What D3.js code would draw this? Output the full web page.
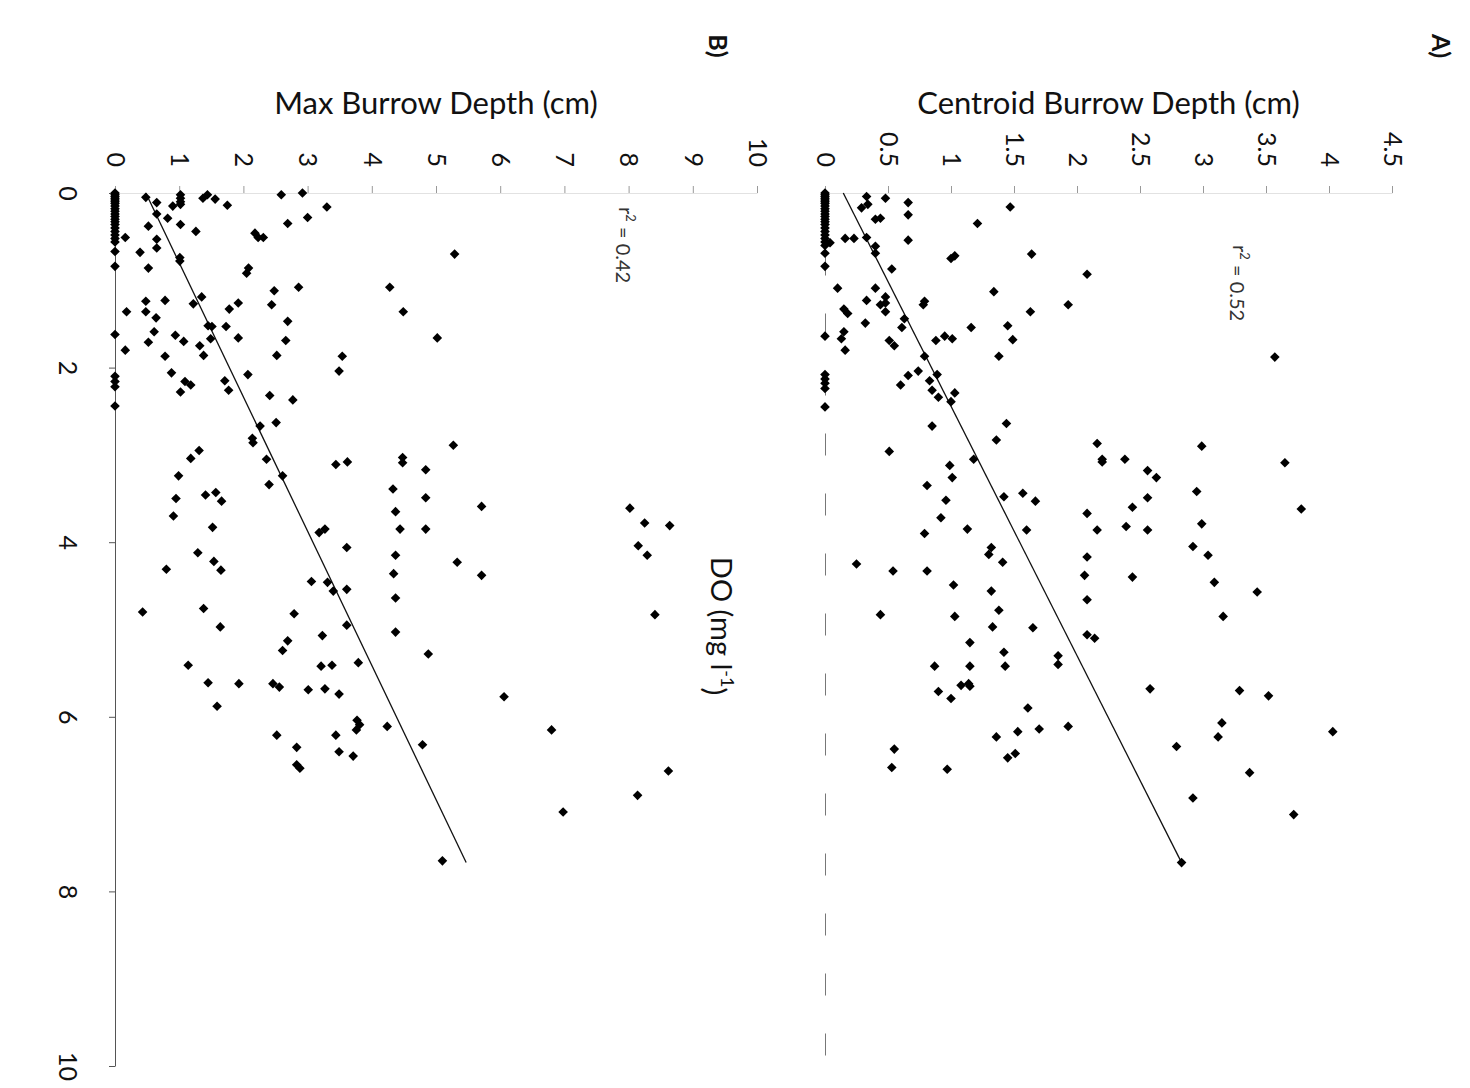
<!DOCTYPE html>
<html>
<head>
<meta charset="utf-8">
<script src="https://cdn.jsdelivr.net/npm/d3@7"></script>
<style>
  html, body { margin: 0; padding: 0; background: #fff; }
  svg { display: block; }
  text { font-family: Lato, "Open Sans", sans-serif; fill: #111; }
</style>
</head>
<body>
<svg id="chart" width="1470" height="1088"></svg>
<script>
// ---------- DATA ----------
const doTicks = [0, 2, 4, 6, 8, 10];
const centroidTicks = [0, 0.5, 1, 1.5, 2, 2.5, 3, 3.5, 4, 4.5];
const maxTicks = [0, 1, 2, 3, 4, 5, 6, 7, 8, 9, 10];

const panelLabels = ["A)", "B)"];
const axisTitles = ["Centroid Burrow Depth (cm)", "Max Burrow Depth (cm)"];
const r2Labels = ["0.52", "0.42"];

// [DO (mg/l), centroid burrow depth (cm)]
const centroidPoints = [
  [0,0],[0.02,0],[0.04,0],[0.06,0],[0.08,0],[0.1,0],[0.12,0],[0.15,0],[0.18,0],[0.21,0],[0.24,0],[0.27,0],[0.3,0],
  [0.33,0],[0.36,0],[0.4,0],[0.44,0],[0.48,0],[0.52,0],[0.56,0],[0.6,0],[0.69,0],[0.84,0],[1.64,0],[2.08,0],[2.13,0],
  [2.18,0],[2.24,0],[2.45,0],[0.57,0.04],
  [0.04,0.33],[0.06,0.48],[0.11,0.66],[0.17,0.29],[0.13,0.34],[0.25,0.66],[0.30,0.40],[0.29,0.44],[0.16,1.47],[0.35,1.21],
  [0.52,0.16],[0.52,0.23],[0.51,0.33],[0.54,0.66],[0.61,0.40],[0.69,0.40],[0.75,1.0],[0.72,1.03],[0.70,1.64],[0.87,0.53],
  [0.93,2.08],[1.09,0.10],[1.09,0.40],[1.13,1.34],[1.23,0.33],[1.19,0.48],[1.28,0.44],[1.26,0.48],[1.36,0.48],[1.28,0.78],
  [1.24,0.79],[1.33,0.15],[1.38,0.18],[1.28,1.93],[1.36,1.63],[1.49,0.32],[1.44,0.63],[1.54,0.61],[1.54,1.16],[1.52,1.45],
  [1.68,1.49],[1.59,0.15],[1.67,0.13],[1.80,0.16],[1.69,0.51],[1.75,0.55],[1.69,0.88],[1.64,0.95],[1.67,1.01],[1.87,0.79],
  [1.87,1.38],[1.88,3.57],[2.09,0.66],[2.20,0.60],[2.04,0.74],[2.08,0.89],[2.15,0.83],[2.26,0.85],[2.34,0.90],[2.29,1.03],
  [2.39,1.0],[2.67,0.85],[2.64,1.44],
  [2.83,1.36],[2.96,0.51],[3.05,1.18],[3.12,0.99],[3.26,1.01],[3.35,0.81],[3.52,0.96],[3.72,0.92],[3.90,0.79],[3.85,1.13],
  [3.48,1.42],[3.44,1.57],[3.53,1.67],[3.86,1.60],[4.06,1.32],[4.14,1.30],[4.23,1.41],[4.25,0.25],[4.33,0.54],[4.33,0.81],
  [4.49,1.02],[4.56,1.32],[4.83,0.44],[4.85,1.03],[4.78,1.38],[4.97,1.33],[4.98,1.65],[5.15,1.15],[5.26,1.42],[5.42,0.87],
  [5.42,1.15],[5.42,1.43],[5.30,1.85],[5.40,1.85],
  [2.87,2.16],[3.05,2.20],[3.08,2.20],[3.05,2.38],[3.18,2.56],[3.26,2.63],[2.90,2.99],[3.09,3.65],[3.42,2.95],[3.49,2.56],
  [3.60,2.44],[3.67,2.08],[3.86,2.16],[3.82,2.39],[3.86,2.56],[3.79,2.99],[3.62,3.78],[4.05,2.92],[4.15,3.04],[4.17,2.08],
  [4.38,2.06],[4.40,2.44],[4.46,3.09],[4.57,3.43],[4.66,2.08],[4.85,3.16],[5.06,2.08],[5.10,2.14],
  [5.71,0.90],[5.79,1.0],[5.64,1.08],[5.62,1.14],[5.65,1.15],[5.90,1.61],[6.23,1.36],[6.17,1.53],[6.14,1.70],[6.11,1.93],
  [6.47,1.45],[6.42,1.51],[6.37,0.55],[6.58,0.53],[6.60,0.97],
  [5.68,2.58],[5.70,3.29],[5.76,3.52],[6.07,3.15],[6.23,3.12],[6.34,2.79],[6.17,4.03],[6.64,3.37],[6.93,2.92],[7.12,3.72],
  [7.67,2.83]
];

// [DO (mg/l), max burrow depth (cm)]
const maxPoints = [
  [0,0],[0.02,0],[0.04,0],[0.06,0],[0.08,0],[0.1,0],[0.12,0],[0.15,0],[0.18,0],[0.21,0],[0.24,0],[0.27,0],[0.3,0],
  [0.33,0],[0.36,0],[0.4,0],[0.44,0],[0.48,0],[0.52,0],[0.56,0],[0.67,0],[0.84,0],[1.62,0],[2.10,0],[2.16,0],[2.22,0],[2.44,0],
  [0.51,0.16],[0.05,0.48],[0.11,0.65],[0.24,0.65],[0.15,0.90],[0.02,1.02],[0.06,1.02],[0.10,1.02],[0.13,1.02],[0.29,0.82],
  [0.36,1.02],[0.38,0.52],[0.53,0.65],[0.63,0.65],[0.68,0.39],[0.86,0.52],[0.74,1.01],[0.78,1.01],[1.36,0.18],[1.24,0.48],
  [1.36,0.48],[1.43,0.64],[1.23,0.78],[1.59,0.61],[1.71,0.52],[1.80,0.16],[1.63,0.94],[1.70,1.07],[1.87,0.78],[2.06,0.88],
  [2.16,1.09],[2.28,1.02],
  [0.06,1.37],[0.02,1.44],[0.07,1.56],[0.14,1.75],[0.02,2.59],[0.0,2.92],[0.16,3.30],[0.28,3.0],[0.35,2.69],[0.44,1.26],
  [0.46,2.18],[0.51,2.23],[0.51,2.31],[0.70,5.29],[0.86,2.08],[0.92,2.05],[1.12,2.48],[1.08,2.86],[1.08,4.28],[1.36,4.49],
  [1.19,1.35],[1.27,1.22],[1.33,1.78],[1.26,1.92],[1.28,2.44],[1.52,1.45],[1.53,1.51],[1.53,1.73],[1.47,2.69],[1.75,1.32],
  [1.67,1.49],[1.86,1.38],[1.66,1.92],[1.69,2.66],[1.86,2.52],[1.66,5.02],[1.87,3.54],[2.04,3.49],[2.20,1.18],[2.15,1.71],
  [2.26,1.77],[2.08,2.07],[2.32,2.41],[2.37,2.77],[2.63,2.51],[2.67,2.26],
  [2.81,2.14],[2.86,2.15],[2.95,1.31],[3.04,1.18],[3.24,0.99],[3.05,2.36],[3.24,2.61],[3.34,2.40],[3.11,3.44],[3.08,3.62],
  [3.03,4.48],[3.09,4.48],[2.89,5.27],[3.17,4.84],[3.39,4.33],[3.49,4.84],[3.65,4.37],[3.85,4.44],[3.85,4.84],[3.59,5.71],
  [3.61,8.02],[4.04,8.15],[3.50,0.95],[3.46,1.41],[3.43,1.57],[3.53,1.66],[3.70,0.91],[3.83,1.52],[3.89,3.18],[3.85,3.27],
  [4.06,3.61],[4.12,1.29],[4.22,1.54],[4.32,1.65],[4.31,0.80],[4.15,4.37],[4.23,5.33],[4.36,4.34],[4.38,5.71],[4.45,3.06],
  [4.46,3.31],[4.56,3.40],[4.54,3.61],[4.64,4.37],[4.80,0.43],[4.76,1.38],[4.97,1.64],[4.82,2.79],[4.95,3.61],[5.03,4.37],
  [5.07,3.23],[5.13,2.69],[5.24,2.61],[5.28,4.88],[5.41,1.14],[5.42,3.21],[5.41,3.38],[5.38,3.79],
  [5.61,1.45],[5.62,1.93],[5.88,1.59],[5.62,2.46],[5.66,2.56],[5.69,3.01],[5.68,3.27],[5.74,3.49],[5.77,6.06],[6.04,3.77],
  [6.09,3.81],[6.15,3.76],[6.11,4.24],[6.21,3.44],[6.21,2.52],[6.35,2.83],[6.40,3.49],[6.45,3.71],[6.55,2.83],[6.59,2.88],
  [6.32,4.79],[6.15,6.80],[7.09,6.98],[7.65,5.10],[6.90,8.14],[3.78,8.25],[3.81,8.64],[4.15,8.29],[4.83,8.41],[6.62,8.62]
];

// linear trend lines [DO, depth] endpoints
const centroidTrend = [[0, 0.145], [7.67, 2.83]];
const maxTrend = [[0, 0.48], [7.67, 5.47]];

// ---------- DRAW ----------
const svg = d3.select("#chart");
svg.append("rect").attr("width", 1470).attr("height", 1088).attr("fill", "#fff");

const yDO = d3.scaleLinear().domain([0, 10]).range([193, 1066]);
const xCentroid = d3.scaleLinear().domain([0, 4.5]).range([825, 1392]);
const xMax = d3.scaleLinear().domain([0, 10]).range([115, 757]);

const diamond = "M0,-4.8L4.8,0L0,4.8L-4.8,0Z";
const fmt = d => String(d);

function drawPanel(opts) {
  const { xs, ticks, points, trend, title, label, labelX, r2, r2X, r2Y, doAxis } = opts;
  const g = svg.append("g");

  // DO axis (vertical, at depth 0)
  if (doAxis) {
    const ax = g.append("g")
      .attr("transform", `translate(${xs(0)},0)`)
      .call(d3.axisLeft(yDO).tickValues(doTicks).tickSize(6).tickSizeOuter(0).tickFormat(fmt));
    ax.select(".domain").attr("stroke", "#555").attr("stroke-width", 1);
    ax.selectAll(".tick line").attr("stroke", "#555");
    ax.selectAll(".tick text")
      .attr("x", 0).attr("y", 47).attr("dy", "0.35em")
      .attr("text-anchor", "middle")
      .attr("transform", "rotate(90)")
      .style("font-size", "25px").style("fill", "#111");
  } else {
    const ax = g.append("g")
      .attr("transform", `translate(${xs(0)},0)`)
      .call(d3.axisLeft(yDO).tickValues([]).tickSizeOuter(0));
    ax.select(".domain").attr("stroke", "#777").attr("stroke-width", 1)
      .attr("stroke-dasharray", "22,38");
  }

  // depth axis (horizontal, at DO = 0)
  const dax = g.append("g")
    .attr("transform", `translate(0,${yDO(0)})`)
    .call(d3.axisTop(xs).tickValues(ticks).tickSize(7).tickSizeOuter(0).tickFormat(fmt));
  dax.select(".domain").attr("stroke", "#e2e2e2");
  dax.selectAll(".tick line").attr("stroke", "#999");
  dax.selectAll(".tick text")
    .attr("x", -26).attr("y", 0).attr("dy", "0.35em")
    .attr("text-anchor", "end")
    .attr("transform", "rotate(90)")
    .style("font-size", "25px").style("fill", "#111");

  // trend line
  g.append("path")
    .datum(trend)
    .attr("fill", "none")
    .attr("stroke", "#111")
    .attr("stroke-width", 1.3)
    .attr("d", d3.line().x(d => xs(d[1])).y(d => yDO(d[0])));

  // points
  g.selectAll("path.pt")
    .data(points)
    .join("path")
    .attr("class", "pt")
    .attr("d", diamond)
    .attr("fill", "#000")
    .attr("transform", d => `translate(${xs(d[1])},${yDO(d[0])})`);

  // axis title
  const [r0, r1] = xs.range();
  g.append("text")
    .attr("x", (r0 + r1) / 2).attr("y", 114)
    .attr("text-anchor", "middle")
    .style("font-size", "31px")
    .text(title);

  // r² annotation
  const rt = g.append("text")
    .attr("transform", `translate(${r2X},${r2Y}) rotate(90)`)
    .attr("dy", "0.35em")
    .attr("text-anchor", "start")
    .style("font-size", "20px").style("fill", "#333");
  rt.append("tspan").text("r");
  rt.append("tspan").attr("dy", "-0.5em").style("font-size", "13px").text("2");
  rt.append("tspan").attr("dy", "0.5em").text(" = " + r2);

  // panel label
  g.append("text")
    .attr("transform", `translate(${labelX},46) rotate(90)`)
    .attr("dy", "0.35em")
    .attr("text-anchor", "middle")
    .style("font-size", "25px").style("font-weight", "bold")
    .text(label);
}

drawPanel({
  xs: xCentroid, ticks: centroidTicks, points: centroidPoints, trend: centroidTrend,
  title: axisTitles[0], label: panelLabels[0], labelX: 1441,
  r2: r2Labels[0], r2X: 1240, r2Y: 245, doAxis: false
});
drawPanel({
  xs: xMax, ticks: maxTicks, points: maxPoints, trend: maxTrend,
  title: axisTitles[1], label: panelLabels[1], labelX: 718,
  r2: r2Labels[1], r2X: 626, r2Y: 207, doAxis: true
});

// DO axis title (rotated)
const doTitle = svg.append("text")
  .attr("transform", "translate(721,626) rotate(90)")
  .attr("dy", "0.35em")
  .attr("text-anchor", "middle")
  .style("font-size", "29px");
doTitle.append("tspan").text("DO (mg l");
doTitle.append("tspan").attr("dy", "-0.55em").style("font-size", "18px").text("-1");
doTitle.append("tspan").attr("dy", "0.55em").text(")");
</script>
</body>
</html>
